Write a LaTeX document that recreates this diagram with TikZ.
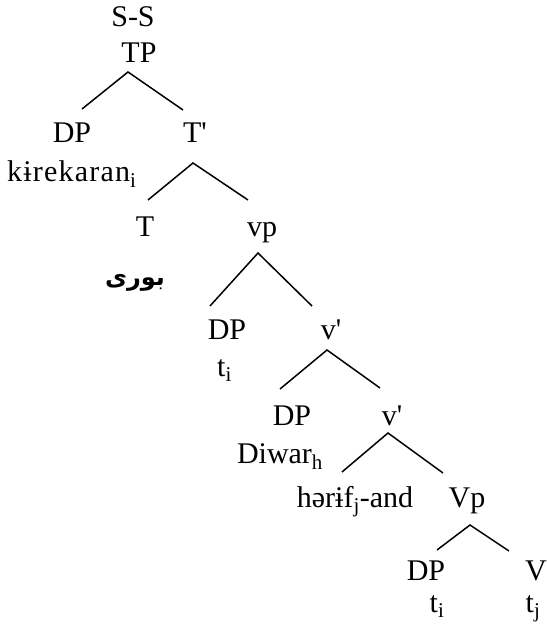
\documentclass[tikz,border=0pt]{standalone}
\usepackage{fontspec}
\TeXXeTstate=1
\newfontfamily\tnr{Liberation Serif}
\newfontfamily\arabicfont[Script=Arabic]{DejaVu Sans}
\begin{document}
\begin{tikzpicture}[x=1pt,y=-1pt,
  lbl/.style={anchor=base,inner sep=0pt,font=\tnr\fontsize{30}{35}\selectfont},
  edge/.style={line width=1.5pt}]
\useasboundingbox (0,0) rectangle (546,631);
% labels
\node[lbl] (ss)  at (133,27) {S-S};
\node[lbl] (tp)  at (139,63) {TP};
\node[lbl] (dp1) at (72,143) {DP};
\node[lbl,anchor=base west] (kir) at (7,182) {\addfontfeature{LetterSpace=4}kɨrekaran\textsubscript{i}};
\node[lbl] (tb)  at (195,143) {T'};
\node[lbl] (t)   at (145,236) {T};
\node[anchor=base,inner sep=0pt] (bori) at (135,285) {\arabicfont\bfseries\fontsize{24}{28}\selectfont\beginR بوری\endR};
\node[lbl] (vp)  at (262,236) {vp};
\node[lbl] (dp3) at (227,339) {DP};
\node[lbl] (ti1) at (224.5,376) {t\textsubscript{i}};
\node[lbl] (vb1) at (331,339) {v'};
\node[lbl] (dp4) at (292,425) {DP};
\node[lbl] (diw) at (280,463) {Diwar\textsubscript{h}};
\node[lbl] (vb2) at (392,425) {v'};
\node[lbl] (har) at (355,507) {hərɨf\textsubscript{j}-and};
\node[lbl] (vpc) at (467,507) {Vp};
\node[lbl] (dp5) at (426,580) {DP};
\node[lbl] (v)   at (536,580) {V};
\node[lbl] (ti2) at (437,612) {t\textsubscript{i}};
\node[lbl] (tj)  at (533,612) {t\textsubscript{j}};
% branches
\draw[edge] ([shift={(10,-34)}]dp1.base) -- ([shift={(-11,9)}]tp.base) -- ([shift={(-12,-33)}]tb.base);
\draw[edge] ([shift={(3,-36)}]t.base) -- ([shift={(-2,20)}]tb.base) -- ([shift={(-14,-36)}]vp.base);
\draw[edge] ([shift={(-17,-33)}]dp3.base) -- ([shift={(-4,17)}]vp.base) -- ([shift={(-19,-33)}]vb1.base);
\draw[edge] ([shift={(-12,-36)}]dp4.base) -- ([shift={(-4,11)}]vb1.base) -- ([shift={(-12,-37)}]vb2.base);
\draw[edge] ([shift={(-13,-35)}]har.base) -- ([shift={(-4,8)}]vb2.base) -- ([shift={(-24,-34)}]vpc.base);
\draw[edge] ([shift={(11,-30)}]dp5.base) -- ([shift={(3,18)}]vpc.base) -- ([shift={(-27,-29)}]v.base);
\end{tikzpicture}
\end{document}
